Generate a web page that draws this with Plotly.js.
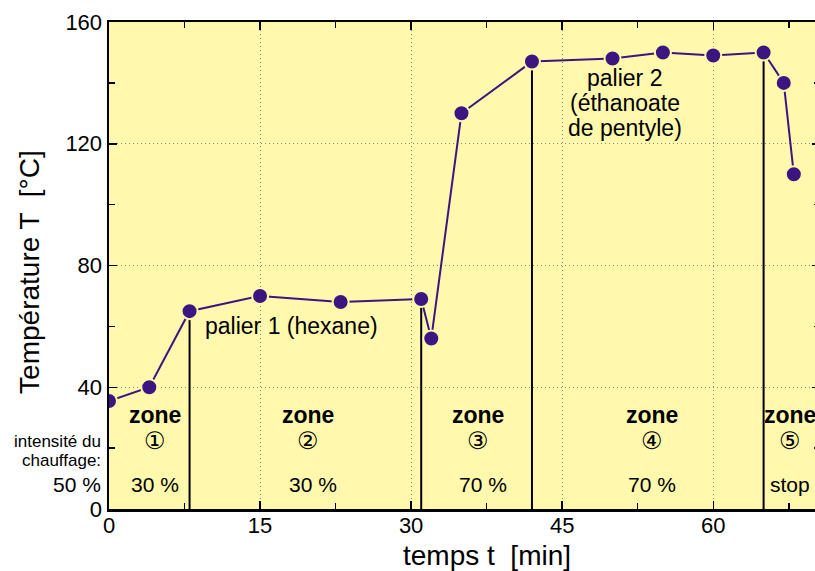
<!DOCTYPE html>
<html>
<head>
<meta charset="utf-8">
<script src="https://cdn.plot.ly/plotly-3.0.1.min.js"></script>
<style>html,body{margin:0;padding:0;overflow:hidden;background:#fff;}</style>
</head>
<body>
<div id="chart"></div>
<script>
// Data
const timeMin = [0, 4, 8, 15, 23, 31, 32, 35, 42, 50, 55, 60, 65, 67, 68];
const tempC   = [35.5, 40, 65, 70, 68, 69, 56, 130, 147, 148, 150, 149, 150, 140, 110];
const zoneBoundaryTimes = [8, 31, 42, 65];
const zoneCenters = [4.6, 19.8, 36.6, 53.9, 67.6];
const zoneNumbers = ['①', '②', '③', '④', '⑤'];
const zoneIntensity = ['30 %', '30 %', '70 %', '70 %', 'stop'];
const palier2Lines = ['palier 2', '(éthanoate', 'de pentyle)'];
const xTickVals = [0, 15, 30, 45, 60];
const yTickVals = [0, 40, 80, 120, 160];

const FONT = 'Liberation Sans, Arial, Helvetica, sans-serif';
const PURPLE = '#3c1580';
const BG = '#fff8ad';

// vertical boundary lines from 0 up to the measured temperature
const vx = [], vy = [];
zoneBoundaryTimes.forEach(t => {
  const T = tempC[timeMin.indexOf(t)];
  vx.push(t, t, null); vy.push(0, T, null);
});

const traces = [
  {x: vx, y: vy, mode: 'lines', line: {color: '#000', width: 2}, hoverinfo: 'skip', showlegend: false},
  {x: timeMin, y: tempC, mode: 'lines+markers',
   line: {color: PURPLE, width: 2},
   marker: {color: PURPLE, size: 16, line: {color: BG, width: 2}},
   showlegend: false}
];

const ann = [];
const A = (o) => ann.push(Object.assign({showarrow: false, xref: 'x', yref: 'y'}, o));
zoneCenters.forEach((xc, i) => {
  A({x: xc, y: 30.9, text: '<b>zone</b>', font: {family: FONT, size: 23, color: '#000'}});
  A({x: xc, y: 22.5, text: zoneNumbers[i], font: {family: 'DejaVu Sans, ' + FONT, size: 24, color: '#000'}});
  A({x: xc + (i === 1 || i === 2 ? 0.5 : 0), y: 8.2, text: zoneIntensity[i], font: {family: FONT, size: 21, color: '#000'}});
});
A({x: -0.008, xref: 'paper', y: 22.3, xanchor: 'right', text: 'intensité du', font: {family: FONT, size: 17, color: '#000'}});
A({x: -0.008, xref: 'paper', y: 15.8, xanchor: 'right', text: 'chauffage:', font: {family: FONT, size: 17, color: '#000'}});
A({x: -0.008, xref: 'paper', y: 8.2, xanchor: 'right', text: '50 %', font: {family: FONT, size: 21, color: '#000'}});
A({x: 9.3, y: 60.1, xanchor: 'left', text: 'palier 1 (hexane)', font: {family: FONT, size: 23, color: '#000'}});
palier2Lines.forEach((s, i) => {
  A({x: 51.2, y: 141.6 - i * 8.2, text: s, font: {family: FONT, size: 23, color: '#000'}});
});
A({x: 0.532, y: -0.096, xref: 'paper', yref: 'paper', xanchor: 'center', yanchor: 'middle', text: 'temps t  [min]', font: {family: FONT, size: 28, color: '#000'}});
A({x: -0.111, y: 0.487, xref: 'paper', yref: 'paper', xanchor: 'center', yanchor: 'middle', text: 'Température T  [°C]', textangle: -90, font: {family: FONT, size: 28, color: '#000'}});

const axisCommon = {
  showline: true, linecolor: '#000', linewidth: 2.5, mirror: 'ticks',
  ticks: 'inside', ticklen: 8, tickwidth: 1.5, tickcolor: '#000',
  showgrid: true, gridcolor: '#8a8668', gridwidth: 1, griddash: '1px,3px',
  zeroline: false,
  tickfont: {family: FONT, size: 22, color: '#000'}
};

const layout = {
  width: 830, height: 571,
  margin: {l: 109, r: 10, t: 22, b: 62},
  paper_bgcolor: '#fff', plot_bgcolor: BG,
  xaxis: Object.assign({}, axisCommon, {
    range: [0, 70.6], tickmode: 'array', tickvals: xTickVals,
    ticklabelstandoff: -5,
    minor: {dtick: 7.5, ticks: 'inside', ticklen: 6, tickcolor: '#000', showgrid: false}
  }),
  yaxis: Object.assign({}, axisCommon, {
    range: [0, 160], tickmode: 'array', tickvals: yTickVals,
    minor: {dtick: 20, ticks: 'inside', ticklen: 6, tickcolor: '#000', showgrid: false}
  }),
  annotations: ann,
  showlegend: false
};

Plotly.newPlot('chart', traces, layout, {displayModeBar: false, staticPlot: true});
</script>
</body>
</html>
